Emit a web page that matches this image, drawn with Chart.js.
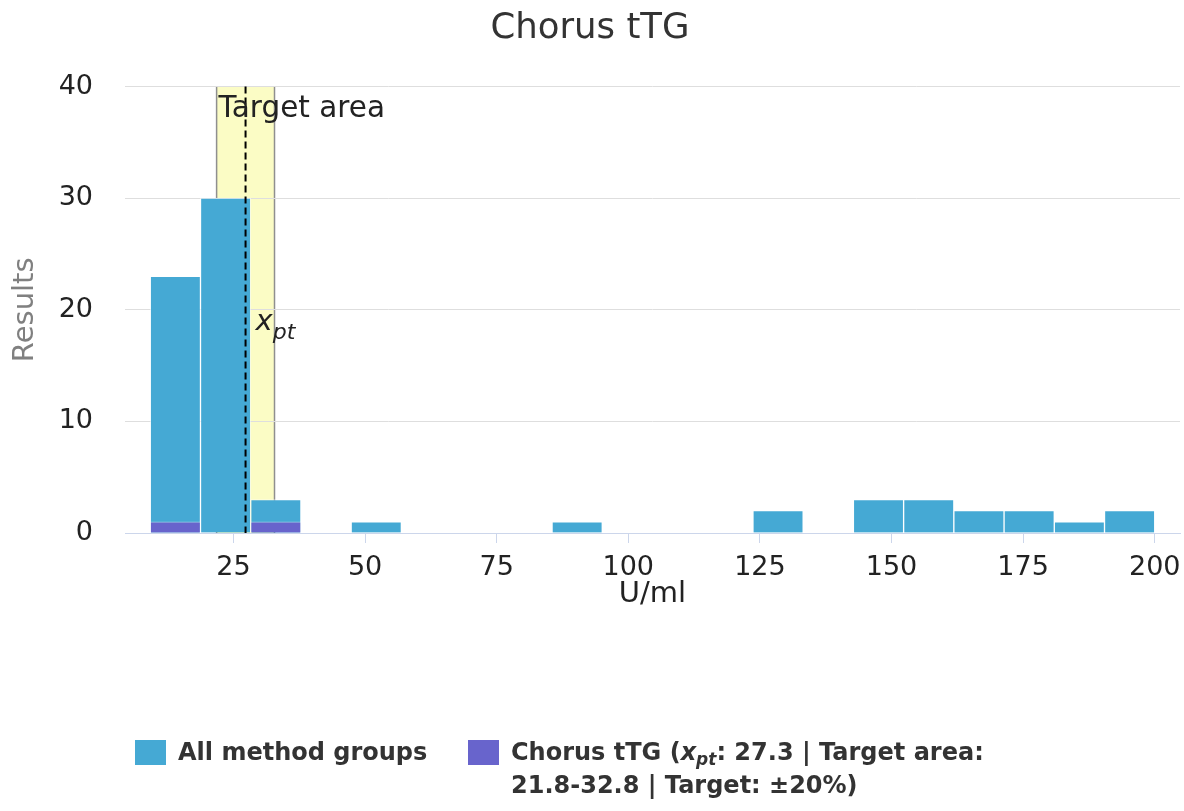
<!DOCTYPE html>
<html>
<head>
<meta charset="utf-8">
<title>Chorus tTG</title>
<script src="https://cdn.jsdelivr.net/npm/chart.js@4.4.1/dist/chart.umd.min.js"></script>
<style>
    html, body { margin: 0; padding: 0; background: #fff; }
    #wrap { position: relative; width: 1184px; height: 811px; }
    #chart { position: absolute; left: 0; top: 0; }
    .legend-item { position: absolute; font: bold 24px "DejaVu Sans", sans-serif; color: #333; line-height: 33px; }
    .legend-item .box { position: absolute; left: 0; top: 4px; width: 31px; height: 25px; }
    .legend-item .txt { display: block; margin-left: 43px; white-space: nowrap; }
    .legend-item sub { font-size: 17px; vertical-align: -5px; line-height: 0; }
</style>
</head>
<body>
<div id="wrap">
    <canvas id="chart" width="1184" height="811"></canvas>
    <div id="legend"></div>
</div>
<script>
// bin centres of the histogram (U/ml)
const binCenters = [13.97, 23.51, 33.05, 42.59, 52.13, 61.67, 71.21, 80.75, 90.29, 99.83,
                    109.37, 118.91, 128.45, 137.99, 147.53, 157.07, 166.61, 176.15, 185.69, 195.23];
// number of results per bin
const allGroups = [23, 30, 3, 0, 1, 0, 0, 0, 1, 0, 0, 0, 2, 0, 3, 3, 2, 2, 1, 2];
const chorusGroup = [1, 0, 1, 0, 0, 0, 0, 0, 0, 0, 0, 0, 0, 0, 0, 0, 0, 0, 0, 0];
const xTicks = [25, 50, 75, 100, 125, 150, 175, 200];
const yTicks = [0, 10, 20, 30, 40];
const xpt = 27.3;
const targetArea = [21.8, 32.8];

const BLUE = '#45a9d4';
const PURPLE = '#6864cc';

// zone cible + ligne x_pt
const targetPlugin = {
    id: 'targetArea',
    beforeDraw(chart) {
        const { ctx, chartArea: a, scales: { x } } = chart;
        const x0 = x.getPixelForValue(targetArea[0]);
        const x1 = x.getPixelForValue(targetArea[1]);
        ctx.save();
        ctx.fillStyle = '#fbfcc5';
        ctx.fillRect(x0, a.top, x1 - x0, a.bottom - a.top);
        ctx.strokeStyle = '#8f8f8f';
        ctx.lineWidth = 1.5;
        ctx.beginPath();
        ctx.moveTo(x0, a.top); ctx.lineTo(x0, a.bottom);
        ctx.moveTo(x1, a.top); ctx.lineTo(x1, a.bottom);
        ctx.stroke();
        ctx.restore();
    },
    afterDatasetsDraw(chart) {
        const { ctx, chartArea: a, scales: { x } } = chart;
        const x0 = x.getPixelForValue(targetArea[0]);
        const xp = x.getPixelForValue(xpt);
        ctx.save();
        ctx.strokeStyle = '#000';
        ctx.lineWidth = 2;
        ctx.setLineDash([7, 4]);
        ctx.beginPath();
        ctx.moveTo(xp, a.top);
        ctx.lineTo(xp, a.bottom);
        ctx.stroke();
        ctx.setLineDash([]);

        ctx.fillStyle = '#222';
        ctx.textBaseline = 'alphabetic';
        ctx.textAlign = 'left';
        ctx.font = '29.5px "DejaVu Sans"';
        ctx.fillText('Target area', x0 + 2, a.top + 30);

        ctx.font = 'italic 29px "DejaVu Sans"';
        const lx = xp + 10, ly = a.top + 243;
        ctx.fillText('x', lx, ly);
        const w = ctx.measureText('x').width;
        ctx.font = 'italic 22px "DejaVu Sans"';
        ctx.fillText('pt', lx + w, ly + 9);
        ctx.restore();
    }
};

Chart.defaults.font.family = '"DejaVu Sans", sans-serif';

const chart = new Chart(document.getElementById('chart'), {
    type: 'bar',
    data: {
        datasets: [
            {
                label: 'All method groups',
                data: binCenters.map((c, i) => ({ x: c, y: allGroups[i] })),
                backgroundColor: BLUE,
                borderColor: 'rgba(255,255,255,0.55)',
                borderWidth: 1,
                grouped: false,
                barPercentage: 1,
                categoryPercentage: 1,
                order: 2
            },
            {
                label: 'Chorus tTG (xpt: 27.3 | Target area: 21.8-32.8 | Target: ±20%)',
                data: binCenters.map((c, i) => ({ x: c, y: chorusGroup[i] })),
                backgroundColor: PURPLE,
                borderColor: 'rgba(255,255,255,0.45)',
                borderWidth: 1,
                grouped: false,
                barPercentage: 1,
                categoryPercentage: 1,
                order: 1
            }
        ]
    },
    options: {
        responsive: false,
        animation: false,
        devicePixelRatio: 1,
        layout: { padding: { top: 0, right: 4, bottom: 202, left: 0 } },
        plugins: {
            legend: { display: false },
            tooltip: { enabled: false },
            title: {
                display: true,
                text: 'Chorus tTG',
                color: '#333',
                font: { size: 35.5, weight: 'normal' },
                padding: { top: 7, bottom: 37 }
            }
        },
        scales: {
            x: {
                type: 'linear',
                min: 4.4,
                max: 204.8,
                offset: false,
                afterBuildTicks: axis => { axis.ticks = xTicks.map(v => ({ value: v })); },
                afterFit: axis => {
                    axis.height = 76;
                    axis.paddingLeft = 0;
                    axis.paddingRight = 0;
                },
                grid: { offset: false, drawOnChartArea: false, drawTicks: true, tickLength: 10, color: '#ccd6eb' },
                border: { color: '#ccd6eb', width: 1 },
                ticks: { color: '#222', font: { size: 27, lineHeight: 1 }, padding: 11, maxRotation: 0 },
                title: { display: true, text: 'U/ml', color: '#222', font: { size: 29, lineHeight: 1 }, padding: { top: 0, bottom: 0 } }
            },
            y: {
                min: 0,
                max: 40,
                afterBuildTicks: axis => { axis.ticks = yTicks.map(v => ({ value: v })); },
                afterFit: axis => { axis.width = 125; },
                grid: { drawTicks: false, color: '#dedede' },
                border: { display: false },
                ticks: { color: '#222', font: { size: 27 }, padding: 32 },
                title: { display: true, text: 'Results', color: '#808080', font: { size: 29, lineHeight: 1 }, padding: { top: 11 } }
            }
        }
    },
    plugins: [targetPlugin]
});

// legende HTML (indice en italique)
const legend = document.getElementById('legend');
legend.innerHTML = `
    <div class="legend-item" style="left:135px; top:736px;">
        <span class="box" style="background:${BLUE}"></span>
        <span class="txt">${chart.data.datasets[0].label}</span>
    </div>
    <div class="legend-item" style="left:468px; top:736px;">
        <span class="box" style="background:${PURPLE}"></span>
        <span class="txt">Chorus tTG (<i>x<sub>pt</sub></i>: 27.3 | Target area:<br>21.8-32.8 | Target: ±20%)</span>
    </div>`;
</script>
</body>
</html>
